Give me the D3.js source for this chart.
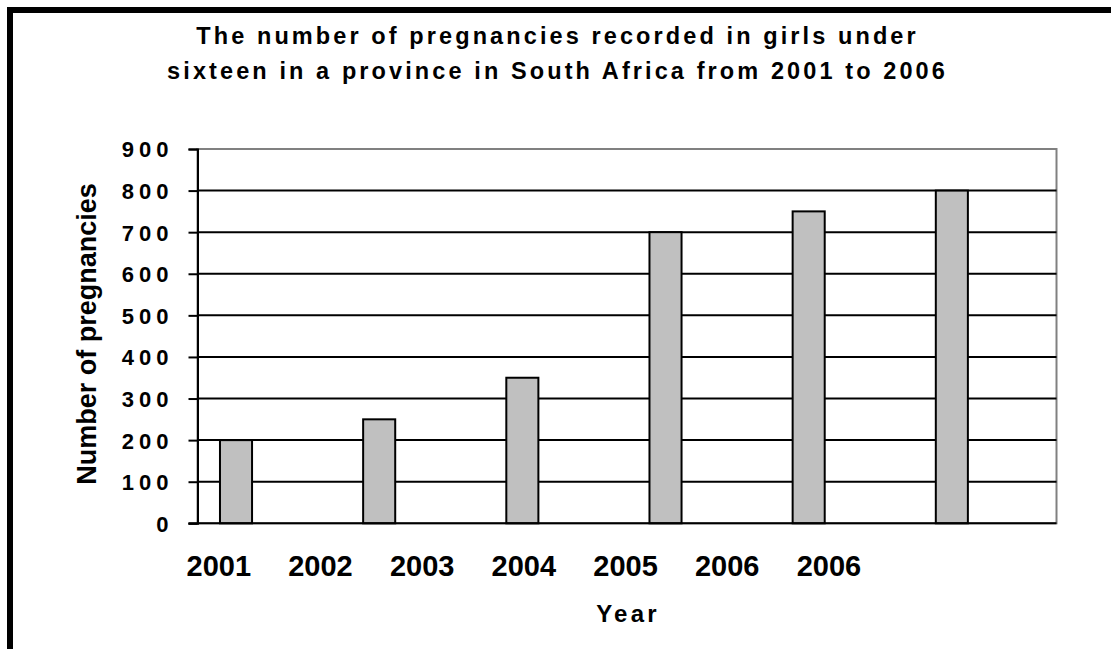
<!DOCTYPE html>
<html><head><meta charset="utf-8">
<script src="https://cdn.jsdelivr.net/npm/d3@7"></script>
<style>
html,body{margin:0;padding:0;background:#fff;overflow:hidden;}
text{font-family:"Liberation Sans",Arial,sans-serif;font-weight:bold;fill:#000;}
</style></head>
<body>
<svg id="chart" width="1111" height="649"></svg>
<script>
// ---- data ----
const years = ["2001","2002","2003","2004","2005","2006"];
const pregnancies = [200, 250, 350, 700, 750, 800];
const xTickLabels = ["2001","2002","2003","2004","2005","2006","2006"];
const yTicks = [0,100,200,300,400,500,600,700,800,900];
const titleLines = ["The number of pregnancies recorded in girls under",
                    "sixteen in a province in South Africa from 2001 to 2006"];
const xTitle = "Year";
const yTitle = "Number of pregnancies";

const svg = d3.select("#chart");
const plot = {left:197.5, right:1056.5, top:149, bottom:523.3};

// outer frame
svg.append("rect").attr("x",10).attr("y",10).attr("width",1300).attr("height",900)
  .attr("fill","none").attr("stroke","#000").attr("stroke-width",6);

const x = d3.scaleBand().domain(years).range([plot.left, plot.right]).padding(0);
const y = d3.scaleLinear().domain([0,900]).range([plot.bottom, plot.top]);
const xLab = d3.scalePoint().domain(d3.range(xTickLabels.length)).range([218.8, 828.9]);

// plot background
svg.append("rect").attr("x",plot.left).attr("y",plot.top)
  .attr("width",plot.right-plot.left).attr("height",plot.bottom-plot.top)
  .attr("fill","#fff").attr("stroke","#808080").attr("stroke-width",2);

// gridlines
svg.append("g").selectAll("line").data(yTicks.filter(t=>t>0 && t<900)).join("line")
  .attr("x1",plot.left).attr("x2",plot.right)
  .attr("y1",d=>y(d)).attr("y2",d=>y(d))
  .attr("stroke","#000").attr("stroke-width",2);

// bars
const bw = x.bandwidth();
svg.append("g").selectAll("rect").data(years).join("rect")
  .attr("x",d=>x(d)+bw*0.157)
  .attr("width",bw*0.224)
  .attr("y",(d,i)=>y(pregnancies[i]))
  .attr("height",(d,i)=>y(0)-y(pregnancies[i]))
  .attr("fill","#c0c0c0").attr("stroke","#000").attr("stroke-width",2);

// baseline
svg.append("line").attr("x1",plot.left-9).attr("x2",plot.right)
  .attr("y1",y(0)).attr("y2",y(0)).attr("stroke","#000").attr("stroke-width",2);

// y axis
const yAxis = d3.axisLeft(y).tickValues(yTicks).tickSize(9).tickPadding(20);
const gy = svg.append("g").attr("transform",`translate(${plot.left},0)`).call(yAxis);
gy.select(".domain").attr("stroke","#000").attr("stroke-width",2);
gy.selectAll(".tick line").attr("stroke","#000").attr("stroke-width",2);
gy.selectAll(".tick text").attr("font-size",22).attr("letter-spacing","5px")
  .attr("dx","5px").attr("dy","0.36em");

// x tick labels
svg.append("g").selectAll("text").data(xTickLabels).join("text")
  .attr("x",(d,i)=>xLab(i)).attr("y",576)
  .attr("text-anchor","middle").attr("font-size",29).text(d=>d);

// title
svg.append("g").selectAll("text").data(titleLines).join("text")
  .attr("x",557.5).attr("y",(d,i)=>44+i*34.5)
  .attr("text-anchor","middle").attr("font-size",23.5).attr("letter-spacing","3.1px")
  .text(d=>d);

// x title
svg.append("text").attr("x",628).attr("y",622).attr("text-anchor","middle")
  .attr("font-size",24).attr("letter-spacing","3.2px").text(xTitle);

// y title
svg.append("text").attr("transform",`translate(96,334) rotate(-90)`)
  .attr("text-anchor","middle").attr("font-size",27).text(yTitle);
</script>
</body></html>
